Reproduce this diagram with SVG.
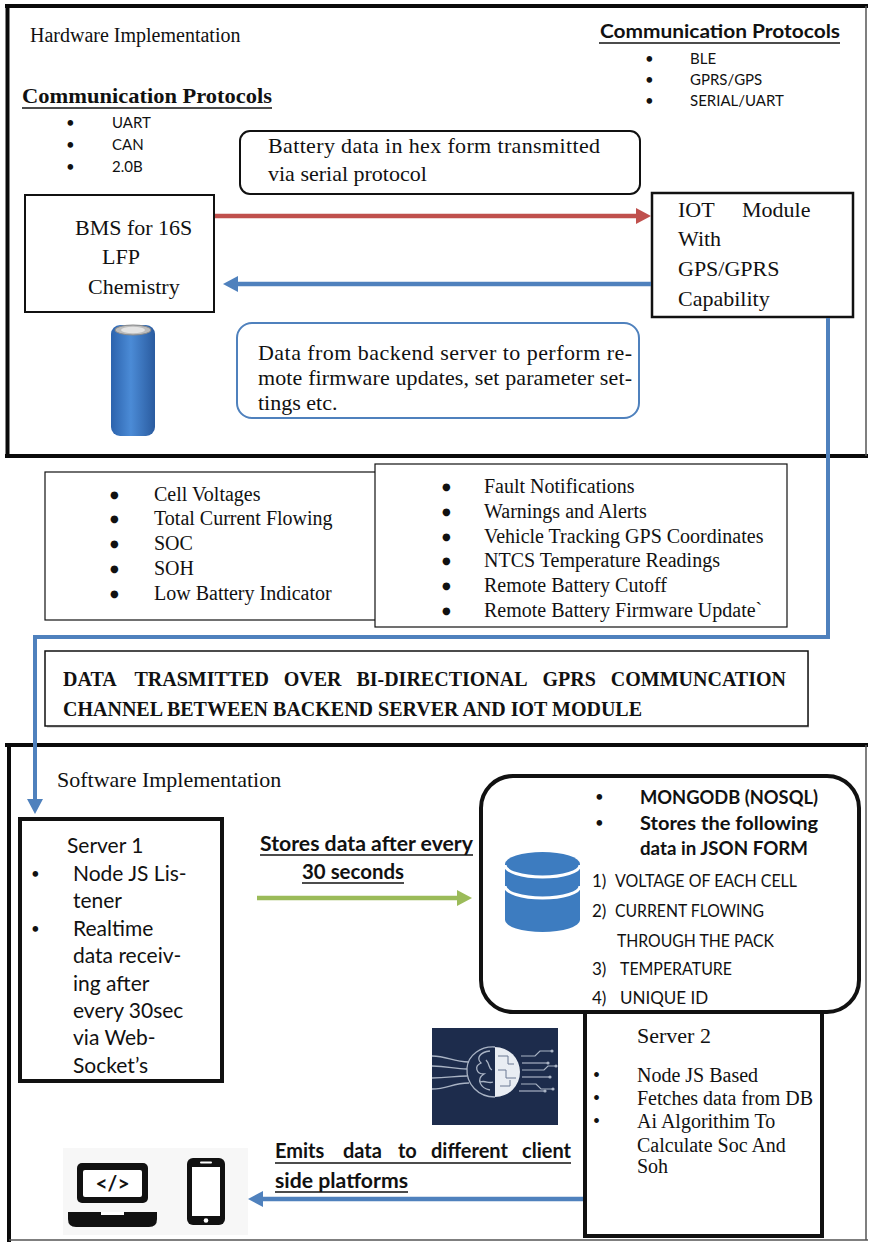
<svg xmlns="http://www.w3.org/2000/svg" width="870" height="1244" viewBox="0 0 870 1244">
  <style>
    .serif { font-family: "Liberation Serif", "Times New Roman", serif; fill: #111; }
    .sans { font-family: Lato, "Open Sans", "Liberation Sans", sans-serif; fill: #111; }
    .b { font-weight: bold; }
    .s20 { font-size: 20px; }
    .s22 { font-size: 22px; }
    .dot { font-family: "DejaVu Sans", sans-serif; font-size: 10px; fill: #111; }
    .box { fill: #fff; stroke: #111; }
    .frame { stroke: #0a0a0a; stroke-width: 4; fill: none; }
    .frame-thin { stroke: #555; stroke-width: 1.5; fill: none; }
    .uline { stroke: #111; stroke-width: 1.6; }
  </style>
  <defs>
    <marker id="ah-red" viewBox="0 0 15 16" refX="0" refY="8" markerWidth="15" markerHeight="16" orient="auto" markerUnits="userSpaceOnUse">
      <path d="M0,0 L15,8 L0,16 Z" fill="#c0504d"/>
    </marker>
    <marker id="ah-blue" viewBox="0 0 15 16" refX="0" refY="8" markerWidth="15" markerHeight="16" orient="auto" markerUnits="userSpaceOnUse">
      <path d="M0,0 L15,8 L0,16 Z" fill="#4f81bd"/>
    </marker>
    <marker id="ah-green" viewBox="0 0 15 16" refX="0" refY="8" markerWidth="15" markerHeight="16" orient="auto" markerUnits="userSpaceOnUse">
      <path d="M0,0 L15,8 L0,16 Z" fill="#9bbb59"/>
    </marker>
    <linearGradient id="cellGrad" x1="0" x2="1" y1="0" y2="0">
      <stop offset="0" stop-color="#2c63ad"/>
      <stop offset="0.45" stop-color="#4b8bd6"/>
      <stop offset="1" stop-color="#2a5b9f"/>
    </linearGradient>
  </defs>

  <rect width="870" height="1244" fill="#fff"/>

  <!-- Hardware section frame -->
  <g id="hardware-frame">
    <line class="frame" x1="5" y1="6" x2="868" y2="6"/>
    <line class="frame" x1="7.5" y1="4" x2="7.5" y2="458"/>
    <line class="frame" x1="5" y1="456" x2="868" y2="456"/>
    <line class="frame-thin" x1="866" y1="6" x2="866" y2="456"/>
    <text class="serif s20" x="30" y="42">Hardware Implementation</text>
  </g>

  <!-- Protocols used on the BMS side -->
  <g id="bms-protocols">
    <text class="serif b s22" x="22" y="103" textLength="250" lengthAdjust="spacingAndGlyphs">Communication Protocols</text>
    <line class="uline" x1="22" y1="108" x2="272" y2="108" stroke-width="2"/>
    <g class="sans" font-size="15">
      <text x="66" y="128">•</text><text x="112" y="128">UART</text>
      <text x="66" y="150">•</text><text x="112" y="150">CAN</text>
      <text x="66" y="172">•</text><text x="112" y="172">2.0B</text>
    </g>
  </g>

  <!-- Protocols used on the IOT side -->
  <g id="iot-protocols">
    <text class="sans b" font-size="19" x="600" y="38" textLength="240" lengthAdjust="spacingAndGlyphs">Communication Protocols</text>
    <line class="uline" x1="599" y1="43" x2="840" y2="43" stroke-width="2"/>
    <g class="sans" font-size="15">
      <text x="645" y="64">•</text><text x="690" y="64">BLE</text>
      <text x="645" y="85">•</text><text x="690" y="85">GPRS/GPS</text>
      <text x="645" y="106">•</text><text x="690" y="106">SERIAL/UART</text>
    </g>
  </g>

  <!-- Callout: uplink -->
  <g id="uplink-note">
    <rect class="box" x="240" y="131" width="400" height="63" rx="10" stroke-width="2"/>
    <text class="serif s22" x="268" y="153" textLength="332" lengthAdjust="spacing">Battery data in hex form transmitted</text>
    <text class="serif s22" x="268" y="181">via serial protocol</text>
  </g>

  <!-- BMS node -->
  <g id="bms">
    <rect class="box" x="25" y="195" width="189" height="117" stroke-width="2"/>
    <text class="serif s22" x="75" y="235">BMS for 16S</text>
    <text class="serif s22" x="102" y="264">LFP</text>
    <text class="serif s22" x="88" y="294">Chemistry</text>
  </g>

  <!-- IOT module node -->
  <g id="iot-module">
    <rect class="box" x="652" y="193" width="201" height="124" stroke-width="2.5"/>
    <text class="serif s22" y="217"><tspan x="678">IOT</tspan><tspan x="742">Module</tspan></text>
    <text class="serif s22" x="678" y="246">With</text>
    <text class="serif s22" x="678" y="276">GPS/GPRS</text>
    <text class="serif s22" x="678" y="306">Capability</text>
  </g>

  <!-- Callout: downlink -->
  <g id="downlink-note">
    <rect x="237" y="323" width="402" height="95" rx="15" fill="#fff" stroke="#4f81bd" stroke-width="2"/>
    <text class="serif s22" x="258" y="360" textLength="374" lengthAdjust="spacing">Data from backend server to perform re-</text>
    <text class="serif s22" x="258" y="385" textLength="374" lengthAdjust="spacing">mote firmware updates, set parameter set-</text>
    <text class="serif s22" x="258" y="410">tings etc.</text>
  </g>

  <!-- 18650-style cell -->
  <g id="battery-cell">
    <rect x="111" y="325" width="44" height="111" rx="9" fill="url(#cellGrad)"/>
    <ellipse cx="133" cy="330" rx="18" ry="5" fill="#bdbdbd" stroke="#8a8a8a" stroke-width="1"/>
    <ellipse cx="133" cy="330" rx="12" ry="3.2" fill="#e4e4e4"/>
  </g>

  <!-- Telemetry list -->
  <g id="telemetry-list">
    <rect class="box" x="45" y="472" width="331" height="148" stroke-width="1.2"/>
    <g class="dot">
      <text x="110" y="498">●</text>
      <text x="110" y="522">●</text>
      <text x="110" y="547">●</text>
      <text x="110" y="572">●</text>
      <text x="110" y="597">●</text>
    </g>
    <g class="serif s20">
      <text x="154" y="501">Cell Voltages</text>
      <text x="154" y="525">Total Current Flowing</text>
      <text x="154" y="550">SOC</text>
      <text x="154" y="575">SOH</text>
      <text x="154" y="600">Low Battery Indicator</text>
    </g>
  </g>

  <!-- Remote features list -->
  <g id="remote-list">
    <rect class="box" x="375" y="464" width="412" height="163" stroke-width="1.2"/>
    <g class="dot">
      <text x="442" y="490">●</text>
      <text x="442" y="515">●</text>
      <text x="442" y="540">●</text>
      <text x="442" y="564">●</text>
      <text x="442" y="589">●</text>
      <text x="442" y="614">●</text>
    </g>
    <g class="serif s20">
      <text x="484" y="493">Fault Notifications</text>
      <text x="484" y="518">Warnings and Alerts</text>
      <text x="484" y="543">Vehicle Tracking GPS Coordinates</text>
      <text x="484" y="567">NTCS Temperature Readings</text>
      <text x="484" y="592">Remote Battery Cutoff</text>
      <text x="484" y="617">Remote Battery Firmware Update`</text>
    </g>
  </g>

  <!-- GPRS channel banner -->
  <g id="gprs-channel">
    <rect x="47" y="653" width="762" height="75" fill="#d9d9d9"/>
    <rect class="box" x="45" y="651" width="763" height="75" stroke="#444" stroke-width="1.5"/>
    <text class="serif b s20" y="686">
      <tspan x="63">DATA</tspan><tspan x="134.5">TRASMITTED</tspan><tspan x="283.7">OVER</tspan><tspan x="356.4">BI-DIRECTIONAL</tspan><tspan x="542.5">GPRS</tspan><tspan x="610.8">COMMUNCATION</tspan>
    </text>
    <text class="serif b s20" x="63" y="716">CHANNEL BETWEEN BACKEND SERVER AND IOT MODULE</text>
  </g>

  <!-- Software section frame -->
  <g id="software-frame">
    <line class="frame" x1="5" y1="745" x2="868" y2="745"/>
    <line class="frame" x1="9" y1="743" x2="9" y2="1242"/>
    <line class="frame-thin" x1="9" y1="1240" x2="868" y2="1240"/>
    <line class="frame-thin" x1="866" y1="745" x2="866" y2="1240"/>
    <text class="serif s22" x="57" y="787">Software Implementation</text>
  </g>

  <!-- Server 1 -->
  <g id="server-1">
    <rect class="box" x="20" y="819" width="202" height="262" stroke-width="4"/>
    <g class="sans" font-size="15">
      <text x="31" y="879">•</text>
      <text x="31" y="934">•</text>
    </g>
    <g class="sans" font-size="21">
      <text x="67" y="853">Server 1</text>
      <text x="73" y="881">Node JS Lis-</text>
      <text x="73" y="908">tener</text>
      <text x="73" y="936">Realtime</text>
      <text x="73" y="963">data receiv-</text>
      <text x="73" y="991">ing after</text>
      <text x="73" y="1018">every 30sec</text>
      <text x="73" y="1045">via Web-</text>
      <text x="73" y="1073">Socket’s</text>
    </g>
  </g>

  <!-- Storage interval label -->
  <g id="store-label">
    <text class="sans b" font-size="20" x="260" y="851" textLength="213" lengthAdjust="spacingAndGlyphs">Stores data after every</text>
    <line class="uline" x1="260" y1="855" x2="473" y2="855"/>
    <text class="sans b" font-size="20" x="302" y="879" textLength="102" lengthAdjust="spacingAndGlyphs">30 seconds</text>
    <line class="uline" x1="302" y1="883" x2="404" y2="883"/>
  </g>

  <!-- MongoDB store -->
  <g id="mongodb">
    <rect class="box" x="481" y="776" width="378" height="236" rx="32" stroke-width="4"/>
    <g id="db-icon">
      <path d="M505,864 V920 A37.5,12 0 0 0 580,920 V864 A37.5,12 0 0 0 505,864 Z" fill="#3d7cc0"/>
      <path d="M505,865 A37.5,12 0 0 0 580,865" fill="none" stroke="#fff" stroke-width="3"/>
      <path d="M505,886 A37.5,12 0 0 0 580,886" fill="none" stroke="#fff" stroke-width="3"/>
    </g>
    <g class="sans" font-size="15">
      <text x="595" y="802">•</text>
      <text x="595" y="828">•</text>
    </g>
    <g class="sans b" font-size="19">
      <text x="640" y="804" textLength="178" lengthAdjust="spacingAndGlyphs">MONGODB (NOSQL)</text>
      <text x="640" y="830" textLength="178" lengthAdjust="spacingAndGlyphs">Stores the following</text>
      <text x="640" y="855" textLength="168" lengthAdjust="spacingAndGlyphs">data in JSON FORM</text>
    </g>
    <g class="sans" font-size="17">
      <text x="592" y="887">1)</text><text x="615" y="887" textLength="182" lengthAdjust="spacingAndGlyphs">VOLTAGE OF EACH CELL</text>
      <text x="592" y="917">2)</text><text x="615" y="917" textLength="149" lengthAdjust="spacingAndGlyphs">CURRENT FLOWING</text>
      <text x="617" y="947" textLength="157" lengthAdjust="spacingAndGlyphs">THROUGH THE PACK</text>
      <text x="592" y="975">3)</text><text x="620" y="975" textLength="112" lengthAdjust="spacingAndGlyphs">TEMPERATURE</text>
      <text x="592" y="1004">4)</text><text x="620" y="1004">UNIQUE ID</text>
    </g>
  </g>

  <!-- AI illustration -->
  <g id="ai-graphic">
    <rect x="432" y="1028" width="126" height="97" fill="#1d2c4c"/>
    <g fill="none" stroke="#a9b3c4" stroke-width="1.3">
      <path d="M432,1056 C448,1056 452,1062 469,1062"/>
      <path d="M432,1066 C448,1066 454,1069 467,1069"/>
      <path d="M432,1078 C448,1078 454,1076 467,1076"/>
      <path d="M432,1089 C448,1089 452,1083 469,1083"/>
      <path d="M495,1047 C481,1046 468,1055 467,1068 C466,1084 478,1097 495,1097"/>
      <path d="M490,1051 C480,1052 476,1058 481,1063 C474,1066 476,1074 484,1074 C476,1079 480,1088 490,1090"/>
      <path d="M486,1060 C490,1064 488,1068 492,1070 M480,1082 C486,1080 488,1084 493,1082"/>
    </g>
    <path d="M495,1047 A25,25 0 0 1 495,1097 Z" fill="#e9edf3"/>
    <g fill="none" stroke="#6b7893" stroke-width="1">
      <path d="M498,1056 H508 V1064 H514"/>
      <path d="M498,1070 H506 V1078 H516"/>
      <path d="M500,1086 H510 V1080"/>
    </g>
    <g fill="none" stroke="#a9b3c4" stroke-width="1.2">
      <path d="M521,1056 H535 L540,1051 H552"/>
      <path d="M522,1063 H548"/>
      <path d="M522,1070 H544 L548,1066 H556"/>
      <path d="M522,1077 H550"/>
      <path d="M521,1084 H536 L541,1089 H553"/>
      <path d="M519,1091 H545"/>
    </g>
    <g fill="#a9b3c4">
      <circle cx="552" cy="1051" r="1.6"/><circle cx="548" cy="1063" r="1.6"/><circle cx="556" cy="1066" r="1.6"/>
      <circle cx="550" cy="1077" r="1.6"/><circle cx="553" cy="1089" r="1.6"/><circle cx="545" cy="1091" r="1.6"/>
    </g>
  </g>

  <!-- Server 2 -->
  <g id="server-2">
    <rect class="box" x="585" y="1012" width="237" height="224" stroke-width="4"/>
    <text class="serif s22" x="637" y="1043">Server 2</text>
    <g class="serif s20">
      <text x="593" y="1082">•</text><text x="637" y="1082">Node JS Based</text>
      <text x="593" y="1105">•</text><text x="637" y="1105">Fetches data from DB</text>
      <text x="593" y="1128">•</text><text x="637" y="1128">Ai Algorithim To</text>
      <text x="637" y="1152">Calculate Soc And</text>
      <text x="637" y="1173">Soh</text>
    </g>
  </g>

  <!-- Client platforms label -->
  <g id="emit-label">
    <text class="sans b" font-size="20" y="1158">
      <tspan x="275">Emits</tspan><tspan x="343">data</tspan><tspan x="398">to</tspan><tspan x="431">different</tspan>
    </text>
    <text class="sans b" font-size="20" x="571" y="1158" text-anchor="end">client</text>
    <line class="uline" x1="275" y1="1163" x2="571" y2="1163"/>
    <text class="sans b" font-size="20" x="275" y="1188" textLength="133" lengthAdjust="spacingAndGlyphs">side platforms</text>
    <line class="uline" x1="275" y1="1192" x2="408" y2="1192"/>
  </g>

  <!-- Client devices -->
  <g id="clients">
    <rect x="63" y="1148" width="185" height="87" fill="#f7f7f7"/>
    <g id="laptop">
      <rect x="77" y="1163" width="71" height="40" rx="5" fill="#111"/>
      <rect x="83" y="1170" width="59" height="27" rx="2" fill="#fff"/>
      <text class="sans b" font-size="21" x="112.5" y="1191" text-anchor="middle">&lt;/&gt;</text>
      <path d="M68,1212 H157 V1219 Q157,1227 149,1227 H76 Q68,1227 68,1219 Z" fill="#111"/>
      <rect x="101" y="1212" width="23" height="3" fill="#fff"/>
    </g>
    <g id="phone">
      <rect x="187" y="1158" width="38" height="67" rx="6" fill="#111"/>
      <rect x="192" y="1167" width="28" height="49" fill="#fff"/>
      <rect x="200" y="1161.5" width="12" height="2" rx="1" fill="#fff"/>
      <circle cx="206" cy="1220.5" r="2.3" fill="#fff"/>
    </g>
  </g>

  <!-- Connectors -->
  <g id="connectors" fill="none">
    <line x1="215" y1="216" x2="636" y2="216" stroke="#c0504d" stroke-width="4.5" marker-end="url(#ah-red)"/>
    <line x1="651" y1="284" x2="238" y2="284" stroke="#4f81bd" stroke-width="4.5" marker-end="url(#ah-blue)"/>
    <path d="M828,318 V637 H35 V799" stroke="#4f81bd" stroke-width="4" marker-end="url(#ah-blue)"/>
    <line x1="257" y1="898" x2="457" y2="898" stroke="#9bbb59" stroke-width="4.5" marker-end="url(#ah-green)"/>
    <line x1="583" y1="1199" x2="263" y2="1199" stroke="#4f81bd" stroke-width="4.5" marker-end="url(#ah-blue)"/>
  </g>
</svg>
